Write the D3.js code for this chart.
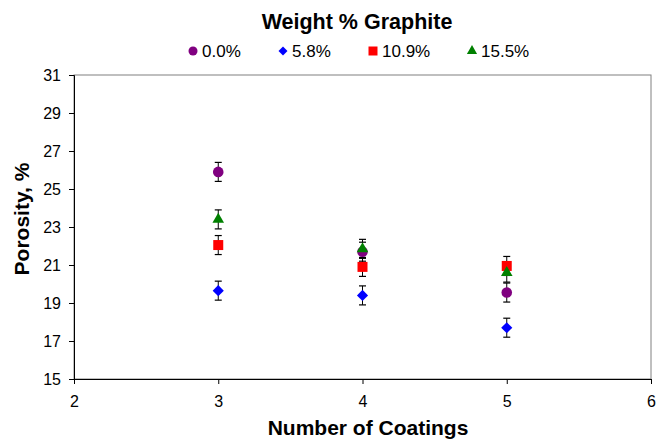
<!DOCTYPE html>
<html><head><meta charset="utf-8">
<script src="https://cdn.jsdelivr.net/npm/d3@7"></script>
<style>body{margin:0;background:#fff}svg{font-family:"Liberation Sans",Arial,sans-serif}</style>
</head><body><svg id="c" width="657" height="440"></svg>
<script>
const coatings = [3, 4, 5];
const seriesNames = ["0.0%", "5.8%", "10.9%", "15.5%"];
const porosity00 = [25.9, 21.7, 19.55];
const porosity58 = [19.65, 19.4, 17.7];
const porosity109 = [22.05, 20.9, 20.95];
const porosity155 = [23.4, 21.85, 20.6];
const errors00 = [0.5, 0.5, 0.5];
const errors58 = [0.5, 0.5, 0.5];
const errors109 = [0.5, 0.5, 0.5];
const errors155 = [0.5, 0.5, 0.5];
const xTicks = [2, 3, 4, 5, 6];
const yTicks = [15, 17, 19, 21, 23, 25, 27, 29, 31];
const colors = ["#800080", "#0000ff", "#ff0000", "#008000"];
const shapes = [d3.symbolCircle, d3.symbolSquare, d3.symbolSquare, d3.symbolTriangle];
const rotations = [0, 45, 0, 0];
const sizes = [88, 62, 100, 58];
const legendSizes = [64, 40, 81, 45];

const series = seriesNames.map((n, i) => ({
  name: n, color: colors[i], shape: shapes[i], size: sizes[i], lsize: legendSizes[i], rot: rotations[i],
  values: [porosity00, porosity58, porosity109, porosity155][i],
  errs: [errors00, errors58, errors109, errors155][i]
}));

const svg = d3.select("#c");
const L = 74, R = 651, T = 75, B = 379;
const x = d3.scaleLinear().domain([2, 6]).range([L, R]);
const y = d3.scaleLinear().domain([15, 31]).range([B, T]);

// plot border
svg.append("rect").attr("x", L).attr("y", T).attr("width", R - L).attr("height", B - T)
  .attr("fill", "none").attr("stroke", "#808080").attr("stroke-width", 1);

const xa = svg.append("g").attr("transform", `translate(0,${B})`)
  .call(d3.axisBottom(x).tickValues(xTicks).tickSize(5).tickPadding(12).tickFormat(d3.format("d")));
const ya = svg.append("g").attr("transform", `translate(${L},0)`)
  .call(d3.axisLeft(y).tickValues(yTicks).tickSize(5).tickPadding(8).tickFormat(d3.format("d")));
[xa, ya].forEach(a => {
  a.select(".domain").attr("stroke", "#000");
  a.selectAll("line").attr("stroke", "#000");
  a.selectAll("text").attr("font-size", 16).attr("fill", "#000").attr("font-family", "Liberation Sans, Arial, sans-serif");
});

// error bars
series.forEach(s => {
  const g = svg.append("g");
  coatings.forEach((c, j) => {
    const cx = x(c), v = s.values[j], e = s.errs[j];
    g.append("line").attr("x1", cx).attr("x2", cx).attr("y1", y(v + e)).attr("y2", y(v - e)).attr("stroke", "#000");
    [v + e, v - e].forEach(w => g.append("line").attr("x1", cx - 3.5).attr("x2", cx + 3.5)
      .attr("y1", y(w)).attr("y2", y(w)).attr("stroke", "#000").attr("stroke-width", 1.2));
  });
});
// markers
series.forEach(s => {
  svg.append("g").selectAll("path").data(coatings).join("path")
    .attr("transform", (c, j) => `translate(${x(c)},${y(s.values[j])}) rotate(${s.rot})`)
    .attr("d", d3.symbol().type(s.shape).size(s.size))
    .attr("fill", s.color);
});

// title & legend
svg.append("text").attr("x", 357).attr("y", 29).attr("text-anchor", "middle")
  .attr("font-size", 21.5).attr("font-weight", "bold").text("Weight % Graphite");
const legX = [193, 283, 373, 472];
series.forEach((s, i) => {
  svg.append("path").attr("transform", `translate(${legX[i]},51) rotate(${s.rot})`)
    .attr("d", d3.symbol().type(s.shape).size(s.lsize)).attr("fill", s.color);
  svg.append("text").attr("x", legX[i] + 9).attr("y", 57).attr("font-size", 17).text(s.name);
});
svg.append("text").attr("x", 368).attr("y", 435).attr("text-anchor", "middle")
  .attr("font-size", 21).attr("font-weight", "bold").text("Number of Coatings");
svg.append("text").attr("transform", "translate(29,219) rotate(-90)").attr("text-anchor", "middle")
  .attr("font-size", 21).attr("font-weight", "bold").text("Porosity, %");
</script></body></html>
